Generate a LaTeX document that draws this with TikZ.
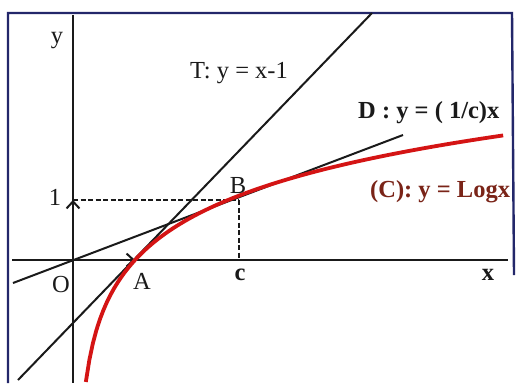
\documentclass[tikz,border=0pt]{standalone}
\usepackage{fontspec}
\setmainfont{Liberation Serif}
\usetikzlibrary{arrows.meta}
\definecolor{framec}{HTML}{23276A}
\definecolor{curvec}{HTML}{D41414}
\definecolor{clabc}{HTML}{7A2418}
\definecolor{inkc}{HTML}{1A1A1A}
\tikzset{
  framel/.style={draw=framec, line width=2.4pt},
  axisl/.style={draw=inkc, line width=2.4pt},
  thinl/.style={draw=inkc, line width=2pt},
  dashl/.style={draw=inkc, line width=1.7pt, dash pattern=on 5pt off 2.5pt},
  curvel/.style={draw=curvec, line width=3.8pt},
  lab/.style={inner sep=0pt, text=inkc, font=\fontsize{24.5}{26}\selectfont},
  blab/.style={inner sep=0pt, text=inkc, font=\fontsize{24.5}{26}\selectfont\bfseries},
  unitarrow/.style={draw=inkc, line width=2.2pt, -{Straight Barb[length=7pt,width=13pt,line width=2pt]}}
}
\begin{document}
\begin{tikzpicture}[x=1pt,y=-1pt]
\useasboundingbox (0,0) rectangle (518,383);
\fill[white] (0,0) rectangle (518,383);
% named points
\coordinate (O) at (73,260);
\coordinate (A) at (135,260);
\coordinate (J) at (73,200);
\coordinate (B) at (239,200);
\coordinate (Cc) at (239,260);
\coordinate (xl) at (12,260);
\coordinate (xr) at (508,260);
\coordinate (yt) at (73,15);
\coordinate (yb) at (73,383);
\coordinate (Ts) at (18,380);
\coordinate (Te) at (372,13);
\coordinate (Ds) at (13,283);
\coordinate (De) at (403,135);
\coordinate (F1) at (8,383);
\coordinate (F2) at (8,13);
\coordinate (F3) at (512,13);
\coordinate (F4) at (514,275);
% frame
\draw[framel] (F1) -- (F2) -- (F3) -- (F4);
% axes
\draw[axisl] (xl) -- (xr);
\draw[axisl] (yt) -- (yb);
% unit vectors
\draw[unitarrow] (O) -- (A);
\draw[unitarrow] (O) -- (J);
% dashed guides
\draw[dashl] (J) -- (B);
\draw[dashl] (B) -- (Cc);
% lines T and D
\draw[thinl] (Ts) -- (Te);
\draw[thinl] (Ds) -- (De);
% curve C
\draw[curvel] plot[domain=0.1375:7.46, samples=120, variable=\t] ({78+57*\t},{260-62*ln(\t)});
% labels
\node[lab, anchor=base] (ly) at (57,43) {y};
\node[blab, anchor=base] (lx) at (488,280) {x};
\node[lab, anchor=base] (lO) at (61,292) {O};
\node[lab, anchor=base] (lA) at (142,289) {A};
\node[lab, anchor=base] (lB) at (238,193) {B};
\node[blab, anchor=base] (lc) at (240,280) {c};
\node[lab, anchor=base] (l1) at (55,205) {1};
\node[lab, anchor=base west] (lT) at (190,78) {T: y = x-1};
\node[blab, anchor=base west] (lD) at (358,118) {D : y = ( 1/c)x};
\node[blab, anchor=base west, text=clabc] (lC) at (370,197) {(C): y = Logx};
\end{tikzpicture}
\end{document}
